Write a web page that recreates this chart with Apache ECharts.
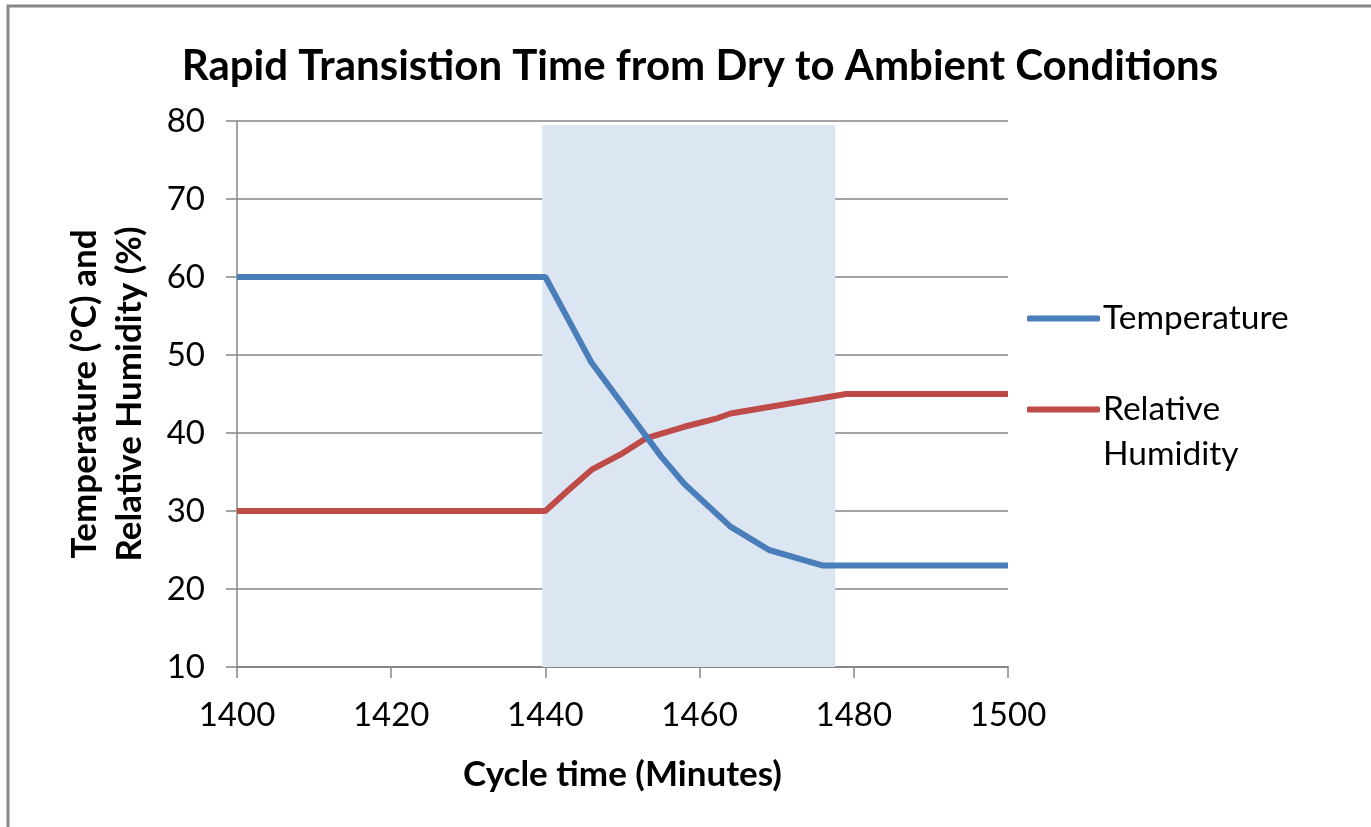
<!DOCTYPE html>
<html>
<head>
<meta charset="utf-8">
<script src="https://cdn.jsdelivr.net/npm/echarts@6/dist/echarts.min.js"></script>
<style>
html,body{margin:0;padding:0;background:#fff;}
#chart{width:1371px;height:827px;}
</style>
</head>
<body>
<div id="chart"></div>
<script>
// Data
const tempMinutes = [1400, 1440, 1446, 1455, 1458, 1464, 1467, 1469, 1476, 1500];
const tempValues  = [60, 60, 49, 37, 33.5, 28, 26.2, 25, 23, 23];
const rhMinutes   = [1400, 1440, 1443, 1446, 1450, 1453, 1458, 1462, 1464, 1479, 1500];
const rhValues    = [30, 30, 32.7, 35.3, 37.4, 39.3, 40.8, 41.8, 42.5, 45, 45];
const bandStart = 1439.6;
const bandEnd = 1477.6;
const seriesNames = ['Temperature', 'Relative Humidity'];
const titleText = 'Rapid Transistion Time from Dry to Ambient Conditions';
const xAxisTitle = 'Cycle time (Minutes)';
const yAxisTitle = 'Temperature (\u00B0C) and\nRelative Humidity (%)';

const FONT = 'Lato';
const chart = echarts.init(document.getElementById('chart'), null, {renderer: 'canvas'});

const zip = (xs, ys) => xs.map((x, i) => [x, ys[i]]);

chart.setOption({
  animation: false,
  backgroundColor: '#ffffff',
  textStyle: {fontFamily: FONT},
  graphic: [{
    type: 'rect',
    shape: {x: 8, y: 6, width: 1500, height: 1000},
    style: {fill: null, stroke: '#878787', lineWidth: 3},
    silent: true
  }],
  title: {
    text: titleText,
    left: 695,
    textAlign: 'center',
    top: 40,
    textStyle: {fontFamily: FONT, fontWeight: 'bold', fontSize: 42, color: '#000'}
  },
  legend: {
    orient: 'vertical',
    left: 1022,
    top: 291,
    itemWidth: 73,
    itemHeight: 6,
    itemGap: 1,
    icon: 'roundRect',
    selectedMode: false,
    formatter: function (name) {
      return name === 'Relative Humidity' ? '\nRelative\nHumidity' : name;
    },
    textStyle: {fontFamily: FONT, fontSize: 33.5, color: '#000', lineHeight: 45, padding: [0, 0, 0, -2]},
    data: seriesNames
  },
  grid: {left: 237, right: 363, top: 121, bottom: 160},
  xAxis: {
    type: 'value',
    min: 1400, max: 1500, interval: 20,
    name: xAxisTitle,
    nameLocation: 'middle',
    nameGap: 90,
    nameTextStyle: {fontFamily: FONT, fontWeight: 'bold', fontSize: 35, color: '#000'},
    axisLine: {show: true, onZero: false, lineStyle: {color: '#868686', width: 2}},
    axisTick: {show: true, length: 11, lineStyle: {color: '#868686', width: 1.5}},
    axisLabel: {margin: 32, fontFamily: FONT, fontSize: 33, color: '#000',
      formatter: function (v) { return String(v); }},
    splitLine: {show: false}
  },
  yAxis: {
    type: 'value',
    min: 10, max: 80, interval: 10,
    name: yAxisTitle,
    nameLocation: 'middle',
    nameRotate: 90,
    nameGap: 85,
    nameTextStyle: {fontFamily: FONT, fontWeight: 'bold', fontSize: 35, color: '#000', lineHeight: 45},
    axisLine: {show: true, lineStyle: {color: '#868686', width: 1.5}},
    axisTick: {show: true, length: 11, lineStyle: {color: '#868686', width: 1.5}},
    axisLabel: {margin: 32, fontFamily: FONT, fontSize: 33, color: '#000'},
    splitLine: {show: true, lineStyle: {color: '#868686', width: 1.5}}
  },
  series: [
    {
      name: seriesNames[0],
      type: 'line',
      data: zip(tempMinutes, tempValues),
      showSymbol: false,
      symbol: 'none',
      color: '#4A7EBB',
      lineStyle: {width: 6, color: '#4A7EBB'},
      z: 3,
      markArea: {
        silent: true,
        itemStyle: {color: '#DCE6F2'},
        data: [[{xAxis: bandStart, yAxis: 79.5}, {xAxis: bandEnd, yAxis: 10}]]
      }
    },
    {
      name: seriesNames[1],
      type: 'line',
      data: zip(rhMinutes, rhValues),
      showSymbol: false,
      symbol: 'none',
      color: '#BE4B48',
      lineStyle: {width: 6, color: '#BE4B48'},
      z: 2
    }
  ]
});
</script>
</body>
</html>
